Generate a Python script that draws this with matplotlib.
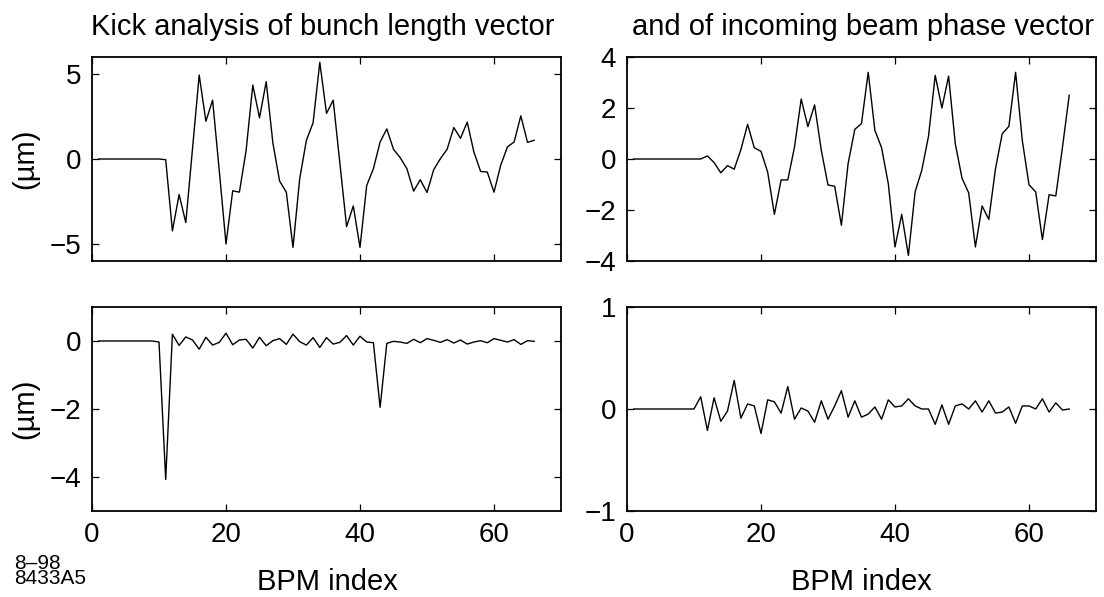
import numpy as np
import matplotlib
matplotlib.use("Agg")
import matplotlib.pyplot as plt

plt.rcParams['font.family'] = ['Liberation Sans', 'DejaVu Sans']

bpm_index = list(range(1, 67))

bunch_length_top = [0, 0, 0, 0, 0, 0, 0, 0, 0, 0,
                    -0.04, -4.23, -2.09, -3.74, 0.6, 4.94, 2.22, 3.46, -0.7, -5.0,
                    -1.87, -1.95, 0.5, 4.35, 2.42, 4.55, 0.94, -1.3, -1.95, -5.2,
                    -1.16, 1.1, 2.13, 5.69, 2.68, 3.46, -0.26, -3.98, -2.76, -5.2,
                    -1.56, -0.57, 1.0, 1.77, 0.57, 0.08, -0.57, -1.89, -1.22, -1.97,
                    -0.63, 0.02, 0.57, 1.85, 1.22, 2.17, 0.41, -0.73, -0.77, -1.95,
                    -0.37, 0.71, 1.0, 2.54, 0.98, 1.1]

beam_phase_top = [0, 0, 0, 0, 0, 0, 0, 0, 0, 0,
                  0, 0.12, -0.14, -0.54, -0.26, -0.4, 0.37, 1.36, 0.44, 0.3,
                  -0.52, -2.17, -0.82, -0.82, 0.47, 2.35, 1.27, 2.12, 0.34, -1.02,
                  -1.07, -2.6, -0.18, 1.16, 1.39, 3.4, 1.12, 0.44, -0.97, -3.45,
                  -2.17, -3.78, -1.29, -0.44, 0.89, 3.28, 2.0, 3.25, 0.6, -0.75,
                  -1.33, -3.45, -1.84, -2.37, -0.38, 0.99, 1.28, 3.4, 0.73, -1.01,
                  -1.29, -3.16, -1.4, -1.45, 0.47, 2.5]

bunch_length_bottom = [0, 0, 0, 0, 0, 0, 0, 0, 0, -0.03,
                       -4.07, 0.2, -0.13, 0.12, 0.03, -0.24, 0.11, -0.12, -0.04, 0.23,
                       -0.11, 0.03, 0.05, -0.21, 0.11, -0.14, 0.01, 0.07, -0.1, 0.2,
                       -0.02, -0.12, 0.1, -0.19, 0.1, -0.09, -0.04, 0.16, -0.12, 0.14,
                       -0.03, -0.05, -1.95, -0.07, -0.01, -0.03, -0.07, 0.05, -0.05, 0.07,
                       0.02, -0.04, 0.04, -0.06, 0.03, -0.09, -0.03, 0.01, -0.05, 0.07,
                       0.02, -0.03, 0.04, -0.1, 0.01, -0.01]

beam_phase_bottom = [0, 0, 0, 0, 0, 0, 0, 0, 0, 0,
                     0.12, -0.21, 0.11, -0.12, -0.02, 0.28, -0.09, 0.05, 0.03, -0.24,
                     0.09, 0.07, -0.04, 0.22, -0.1, 0.01, -0.02, -0.13, 0.08, -0.1,
                     0.03, 0.18, -0.08, 0.08, -0.08, -0.05, 0.02, -0.1, 0.09, 0.02,
                     0.03, 0.1, 0.03, 0.0, 0.0, -0.15, 0.04, -0.15, 0.03, 0.05,
                     0.0, 0.08, -0.03, 0.08, -0.04, -0.03, 0.02, -0.14, 0.03, 0.03,
                     0.0, 0.1, -0.03, 0.06, -0.01, 0.0]

x_ticks = [0, 20, 40, 60]
ylim_tl, yticks_tl = (-6, 6), [-5, 0, 5]
ylim_tr, yticks_tr = (-4, 4), [-4, -2, 0, 2, 4]
ylim_bl, yticks_bl = (-5, 1), [-4, -2, 0]
ylim_br, yticks_br = (-1, 1), [-1, 0, 1]

FS_TICK = 20
FS_TEXT = 21
fig = plt.figure(figsize=(11.04, 5.97), dpi=100)
W, H = 1104, 597

def make_ax(x0, x1, ytop, ybot):
    return fig.add_axes([x0 / W, 1 - ybot / H, (x1 - x0) / W, (ybot - ytop) / H])

ax_tl = make_ax(92, 561, 57, 261)
ax_tr = make_ax(627, 1096, 57, 261)
ax_bl = make_ax(92, 561, 307, 511)
ax_br = make_ax(627, 1096, 307, 511)

specs = [
    (ax_tl, bunch_length_top, ylim_tl, yticks_tl, False),
    (ax_tr, beam_phase_top, ylim_tr, yticks_tr, False),
    (ax_bl, bunch_length_bottom, ylim_bl, yticks_bl, True),
    (ax_br, beam_phase_bottom, ylim_br, yticks_br, True),
]
for ax, y, ylim, yt, showx in specs:
    ax.plot(bpm_index, y, color='black', lw=1.0)
    ax.set_xlim(0, 70)
    ax.set_ylim(*ylim)
    ax.set_xticks(x_ticks)
    ax.set_yticks(yt)
    ax.tick_params(direction='in', length=5, width=0.9, top=True, right=True,
                   labelsize=FS_TICK, pad=8)
    if not showx:
        ax.set_xticklabels([])
    for s in ax.spines.values():
        s.set_linewidth(1.3)

fig.text(91 / W, 1 - 35 / H, "Kick analysis of bunch length vector", fontsize=FS_TEXT,
         ha='left', va='baseline')
fig.text(1094 / W, 1 - 35 / H, "and of incoming beam phase vector", fontsize=FS_TEXT,
         ha='right', va='baseline')

fig.text(25 / W, 1 - 159 / H, "(µm)", fontsize=FS_TEXT, rotation=90, ha='center', va='center')
fig.text(25 / W, 1 - 409 / H, "(µm)", fontsize=FS_TEXT, rotation=90, ha='center', va='center')

fig.text(327 / W, 1 - 582 / H, "BPM index", fontsize=FS_TEXT, ha='center', va='center')
fig.text(861 / W, 1 - 582 / H, "BPM index", fontsize=FS_TEXT, ha='center', va='center')

fig.text(14 / W, 1 - 584 / H, "8–98\n8433A5", fontsize=15, ha='left', va='baseline',
         linespacing=0.75)

fig.savefig("out.png", dpi=100)
